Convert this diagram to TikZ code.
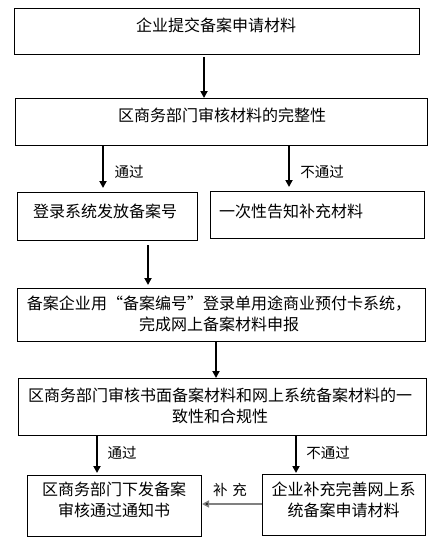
\documentclass[tikz,border=0pt]{standalone}
\usepackage{fontspec}
\setmainfont{Noto Sans CJK SC}
\usetikzlibrary{arrows.meta}
\begin{document}
\begin{tikzpicture}[x=1pt,y=-1pt,
  box/.style={draw, line width=1pt, inner sep=0pt, anchor=north west},
  txt/.style={font=\fontsize{16}{21}\selectfont, inner sep=0pt, align=center},
  lbl/.style={font=\fontsize{14.5}{16}\selectfont, inner sep=0pt},
  arr/.style={line width=2pt, -{Triangle[length=7pt,width=7pt]}}]
\useasboundingbox[fill=white] (0,0) rectangle (442,543);

\node[box, minimum width=405pt, minimum height=46pt] (b1) at (14,8) {};
\node[txt] (t1) at (216,25) {企业提交备案申请材料};

\node[box, minimum width=412pt, minimum height=47pt] (b2) at (15,98) {};
\node[txt] (t2) at (222,115) {区商务部门审核材料的完整性};

\node[box, minimum width=180pt, minimum height=48pt] (b3) at (17,192) {};
\node[txt] (t3) at (105,211) {登录系统发放备案号};

\node[box, minimum width=214pt, minimum height=47pt] (b4) at (210,191) {};
\node[txt, anchor=west] (t4) at (219,211) {一次性告知补充材料};

\node[box, minimum width=408pt, minimum height=53pt] (b5) at (17,288) {};
\node[txt] (t5) at (219,313.5) {备案企业用“备案编号”登录单用途商业预付卡系统，\\完成网上备案材料申报};

\node[box, minimum width=408pt, minimum height=57pt] (b6) at (18,378) {};
\node[txt] (t6) at (220,405.5) {区商务部门审核书面备案材料和网上系统备案材料的一\\致性和合规性};

\node[box, minimum width=174pt, minimum height=61pt] (b7) at (27,475) {};
\node[txt] (t7) at (114,499.5) {区商务部门下发备案\\审核通过通知书};

\node[box, minimum width=163pt, minimum height=61pt] (b8) at (262,474) {};
\node[txt] (t8) at (343.5,500) {企业补充完善网上系\\统备案申请材料};

\coordinate (c1) at (204,0);
\coordinate (c2) at (103,0);
\coordinate (c3) at (289,0);
\coordinate (c4) at (148,0);
\coordinate (c5) at (216,0);
\coordinate (c6) at (97,0);
\coordinate (c7) at (296,0);
\coordinate (c8) at (0,504);

\draw[arr, shorten <=2pt] (b1.south -| c1) -- (b2.north -| c1);
\draw[arr, shorten >=4pt] (b2.south -| c2) -- (b3.north -| c2);
\draw[arr, shorten >=4pt] (b2.south -| c3) -- (b4.north -| c3);
\draw[arr, shorten <=4pt, shorten >=3pt] (b3.south -| c4) -- (b5.north -| c4);
\draw[arr] (b5.south -| c5) -- (b6.north -| c5);
\draw[arr, shorten >=2pt] (b6.south -| c6) -- (b7.north -| c6);
\draw[arr, shorten >=1pt] (b6.south -| c7) -- (b8.north -| c7);
\draw[line width=1.5pt, draw=gray, -{Triangle[length=7pt,width=7pt,fill=black]}] (b8.west |- c8) -- (b7.east |- c8);

\node[lbl] (l1) at (129,172) {通过};
\node[lbl] (l2) at (322,172) {不通过};
\node[lbl] (l3) at (122,453) {通过};
\node[lbl] (l4) at (328,453) {不通过};
\node[lbl] (l5) at (230,490) {补\hspace{5pt}充};
\end{tikzpicture}
\end{document}
